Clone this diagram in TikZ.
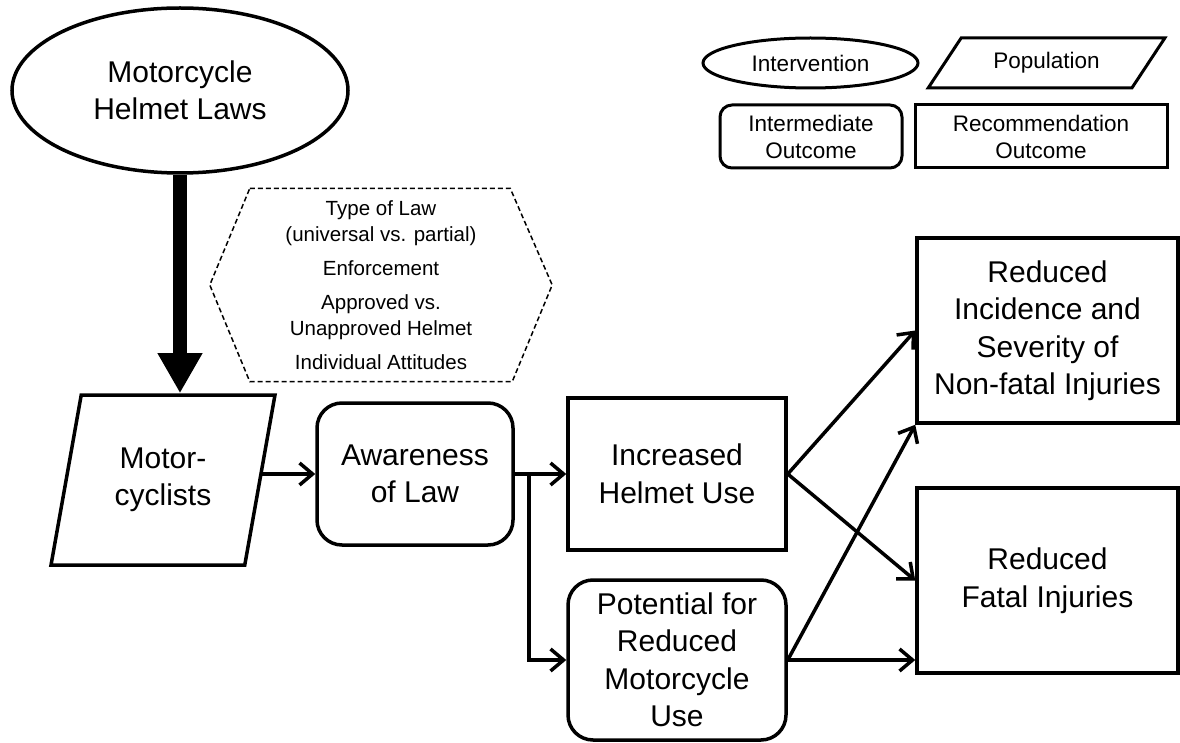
\documentclass[tikz,border=0pt]{standalone}
\usepackage{fontspec}
\setmainfont{Liberation Sans}
\usetikzlibrary{shapes.geometric,arrows.meta}
\begin{document}
\begin{tikzpicture}[x=1pt,y=-1pt,
    every node/.style={align=center,inner sep=0pt},
    big/.style={font=\fontsize{30}{37.5}\selectfont},
    small/.style={font=\fontsize{22.5}{27}\selectfont},
    thick line/.style={draw,line width=3.5pt},
    oval/.style={thick line,ellipse},
    slanted/.style={thick line,trapezium,trapezium stretches=true},
    roundbox/.style={thick line,rounded corners=25pt},
    plainbox/.style={thick line},
    arr/.style={line width=3.5pt,-{Straight Barb[length=13pt,width=22pt]}},
    bigarr/.style={line width=14pt,-{Triangle[length=40pt,width=42pt]}}]
  \useasboundingbox (0,0) rectangle (1180,743);
  \node[oval,big,minimum width=336,minimum height=165] (laws) at (180,90.5) {Motorcycle\\Helmet Laws};
  \node[slanted,big,trapezium left angle=74.5,trapezium right angle=105.5,
        minimum width=224,minimum height=170] (riders) at (163,480) {Motor-\\cyclists};
  \node[font=\fontsize{20.5}{26}\selectfont,minimum width=342,minimum height=193] (factors) at (381,285)
    {Type of Law\\(universal vs. partial)\\[8pt]Enforcement\\[8pt]Approved vs.\\Unapproved Helmet\\[8pt]Individual Attitudes};
  \node[roundbox,big,minimum width=196,minimum height=142] (aware) at (415,474) {Awareness\\of Law};
  \node[plainbox,big,minimum width=218,minimum height=152] (helmetuse) at (677,474) {Increased\\Helmet Use};
  \node[roundbox,big,minimum width=218,minimum height=160] (lessriding) at (677,660) {Potential for\\Reduced\\Motorcycle\\Use};
  \node[plainbox,big,minimum width=261,minimum height=185] (nonfatal) at (1047.5,330.5) {Reduced\\Incidence and\\Severity of\\Non-fatal Injuries};
  \node[plainbox,big,minimum width=261,minimum height=185] (fatal) at (1047.5,580.5) {Reduced\\Fatal Injuries};
  \node[oval,small,line width=3pt,minimum width=215,minimum height=50] (legint) at (810.5,63) {Intervention};
  \node[slanted,small,line width=3pt,trapezium left angle=45.6,trapezium right angle=134.4,
        minimum width=237,minimum height=50] (legpop) at (1046.5,63) {Population};
  \node[roundbox,small,line width=3pt,rounded corners=12pt,minimum width=182,minimum height=63] (legmid) at (811,136.5) {Intermediate\\Outcome};
  \node[plainbox,small,line width=3pt,minimum width=252,minimum height=63] (legrec) at (1041,136.5) {Recommendation\\Outcome};
  \draw[line width=1.5pt,dash pattern=on 5pt off 3pt]
    ([xshift=40]factors.north west) -- ([xshift=-42]factors.north east) -- (factors.east)
    -- ([xshift=-40]factors.south east) -- ([xshift=40]factors.south west) -- (factors.west) -- cycle;
  \draw[bigarr] (laws.south) -- (laws.south |- riders.north);
  \draw[arr] (riders.east |- aware.west) -- (aware.west);
  \draw[arr] (aware.east) -- (helmetuse.west);
  \coordinate (split) at ([xshift=14]aware.east);
  \draw[arr] (split) |- (lessriding.west);
  \draw[arr] (helmetuse.east) -- (nonfatal.west);
  \draw[arr] (helmetuse.east) -- (fatal.west);
  \draw[arr] (lessriding.east) -- (nonfatal.south west);
  \draw[arr] (lessriding.east) -- (lessriding.east -| fatal.west);
\end{tikzpicture}
\end{document}
